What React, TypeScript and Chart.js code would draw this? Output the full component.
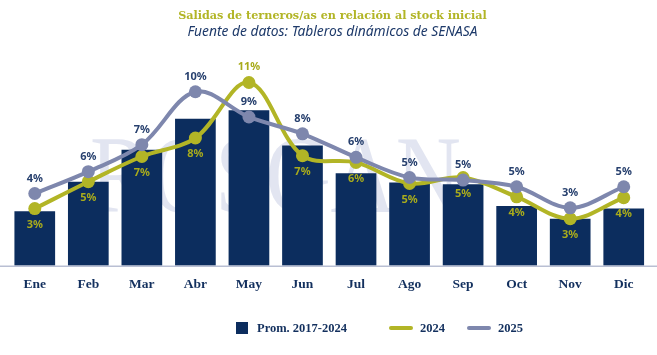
import React, { useEffect, useRef } from "react";
import { Chart, registerables } from "chart.js";

Chart.register(...registerables);

const months = ["Ene", "Feb", "Mar", "Abr", "May", "Jun", "Jul", "Ago", "Sep", "Oct", "Nov", "Dic"];
const prom2017_2024 = [3.25, 5.0, 6.9, 8.75, 9.25, 7.15, 5.5, 4.95, 4.85, 3.55, 2.8, 3.4];
const serie2024 = [3.4, 5.0, 6.5, 7.6, 10.9, 6.55, 6.15, 4.9, 5.25, 4.1, 2.8, 4.05];
const serie2025 = [4.3, 5.6, 7.2, 10.35, 8.85, 7.85, 6.45, 5.25, 5.1, 4.7, 3.45, 4.7];
// label placement of 2024 values: -1 = above point, 1 = below point
const pos2024 = [1, 1, 1, 1, -1, 1, 1, 1, 1, 1, 1, 1];

const NAVY = "#0c2d5e";
const OLIVE = "#b2b526";
const OLIVE_TXT = "#a8ab1c";
const GRAYBLUE = "#7e87ad";
const LABEL_NAVY = "#27406e";

const TITLE = "Salidas de terneros/as en relación al stock inicial";
const SUBTITLE = "Fuente de datos: Tableros dinámicos de SENASA";
const WATERMARK = "ROSGAN";

const watermarkPlugin = {
  id: "watermark",
  beforeDatasetsDraw(chart: any) {
    const ctx = chart.ctx;
    ctx.save();
    ctx.font = "110px 'Liberation Serif'";
    ctx.fillStyle = "rgba(160,170,210,0.3)";
    ctx.textBaseline = "alphabetic";
    ctx.textAlign = "left";
    ctx.translate(90, 212);
    ctx.scale(0.82, 1);
    ctx.fillText(WATERMARK, 0, 0);
    ctx.restore();
  },
};

const baselinePlugin = {
  id: "baseline",
  afterDatasetsDraw(chart: any) {
    const ctx = chart.ctx;
    const y = chart.scales.y.getPixelForValue(0);
    ctx.save();
    ctx.strokeStyle = "#b9bfd3";
    ctx.lineWidth = 1.5;
    ctx.beginPath();
    ctx.moveTo(0, y + 0.5);
    ctx.lineTo(chart.width, y + 0.5);
    ctx.stroke();
    ctx.restore();
  },
};

const labelsPlugin = {
  id: "valueLabels",
  afterDraw(chart: any) {
    const ctx = chart.ctx;
    ctx.save();
    ctx.font = "bold 11px 'Noto Sans'";
    ctx.textAlign = "center";
    ctx.textBaseline = "middle";
    const m24 = chart.getDatasetMeta(1);
    m24.data.forEach((pt: any, i: number) => {
      ctx.fillStyle = OLIVE_TXT;
      const dy = pos2024[i] * 16;
      ctx.fillText(Math.round(serie2024[i]) + "%", pt.x, pt.y + dy);
    });
    const m25 = chart.getDatasetMeta(2);
    m25.data.forEach((pt: any, i: number) => {
      ctx.fillStyle = LABEL_NAVY;
      ctx.fillText(Math.round(serie2025[i]) + "%", pt.x, pt.y - 15);
    });
    ctx.restore();
  },
};

export default function App() {
  const ref = useRef<HTMLCanvasElement | null>(null);

  useEffect(() => {
    if (!ref.current) return;
    const chart = new Chart(ref.current, {
      type: "bar",
      data: {
        labels: months,
        datasets: [
          {
            type: "bar",
            label: "Prom. 2017-2024",
            data: prom2017_2024,
            backgroundColor: NAVY,
            categoryPercentage: 1,
            barPercentage: 0.76,
            order: 3,
          },
          {
            type: "line",
            label: "2024",
            data: serie2024,
            borderColor: OLIVE,
            backgroundColor: OLIVE,
            borderWidth: 4,
            pointRadius: 6.5,
            pointBackgroundColor: OLIVE,
            pointBorderWidth: 0,
            tension: 0.35,
            order: 2,
          } as any,
          {
            type: "line",
            label: "2025",
            data: serie2025,
            borderColor: GRAYBLUE,
            backgroundColor: GRAYBLUE,
            borderWidth: 4,
            pointRadius: 6.5,
            pointBackgroundColor: GRAYBLUE,
            pointBorderWidth: 0,
            tension: 0.35,
            order: 1,
          } as any,
        ],
      },
      options: {
        animation: false,
        responsive: false,
        maintainAspectRatio: false,
        layout: { padding: { left: 8, right: 0, top: 0, bottom: 51 } },
        plugins: {
          legend: { display: false },
          tooltip: { enabled: false },
          title: {
            display: true,
            text: TITLE,
            color: OLIVE,
            font: { family: "'DejaVu Serif'", weight: "bold", size: 11.2 },
            padding: { top: 9, bottom: 1 },
          },
          subtitle: {
            display: true,
            text: SUBTITLE,
            color: "#1e3a6a",
            font: { family: "'Noto Sans'", style: "italic", size: 13.8 },
            padding: { top: 0, bottom: 24 },
          },
        },
        scales: {
          x: {
            grid: { display: false, drawTicks: false },
            border: { display: false },
            ticks: {
              color: "#13305e",
              padding: 11,
              font: { family: "'Liberation Serif'", weight: "bold", size: 13.5 },
            },
          },
          y: {
            display: false,
            min: 0,
            max: 12,
          },
        },
      },
      plugins: [watermarkPlugin, baselinePlugin, labelsPlugin],
    });
    return () => chart.destroy();
  }, []);

  const legendText: React.CSSProperties = {
    fontFamily: "'Liberation Serif'",
    fontWeight: "bold",
    fontSize: 12.5,
    color: "#13305e",
  };

  return (
    <div style={{ position: "fixed", left: 0, top: 0, width: 657, height: 355, background: "#fff" }}>
      <canvas ref={ref} width={657} height={355} style={{ display: "block" }} />
      <div style={{ position: "absolute", left: 236, top: 321, height: 14, display: "flex", alignItems: "center" }}>
        <span style={{ width: 12, height: 12, background: NAVY, display: "inline-block", marginRight: 9 }} />
        <span style={legendText}>Prom. 2017-2024</span>
      </div>
      <div style={{ position: "absolute", left: 389, top: 321, height: 14, display: "flex", alignItems: "center" }}>
        <span style={{ width: 24, height: 4, borderRadius: 2, background: OLIVE, display: "inline-block", marginRight: 7 }} />
        <span style={legendText}>2024</span>
      </div>
      <div style={{ position: "absolute", left: 467, top: 321, height: 14, display: "flex", alignItems: "center" }}>
        <span style={{ width: 24, height: 4, borderRadius: 2, background: GRAYBLUE, display: "inline-block", marginRight: 7 }} />
        <span style={legendText}>2025</span>
      </div>
    </div>
  );
}
